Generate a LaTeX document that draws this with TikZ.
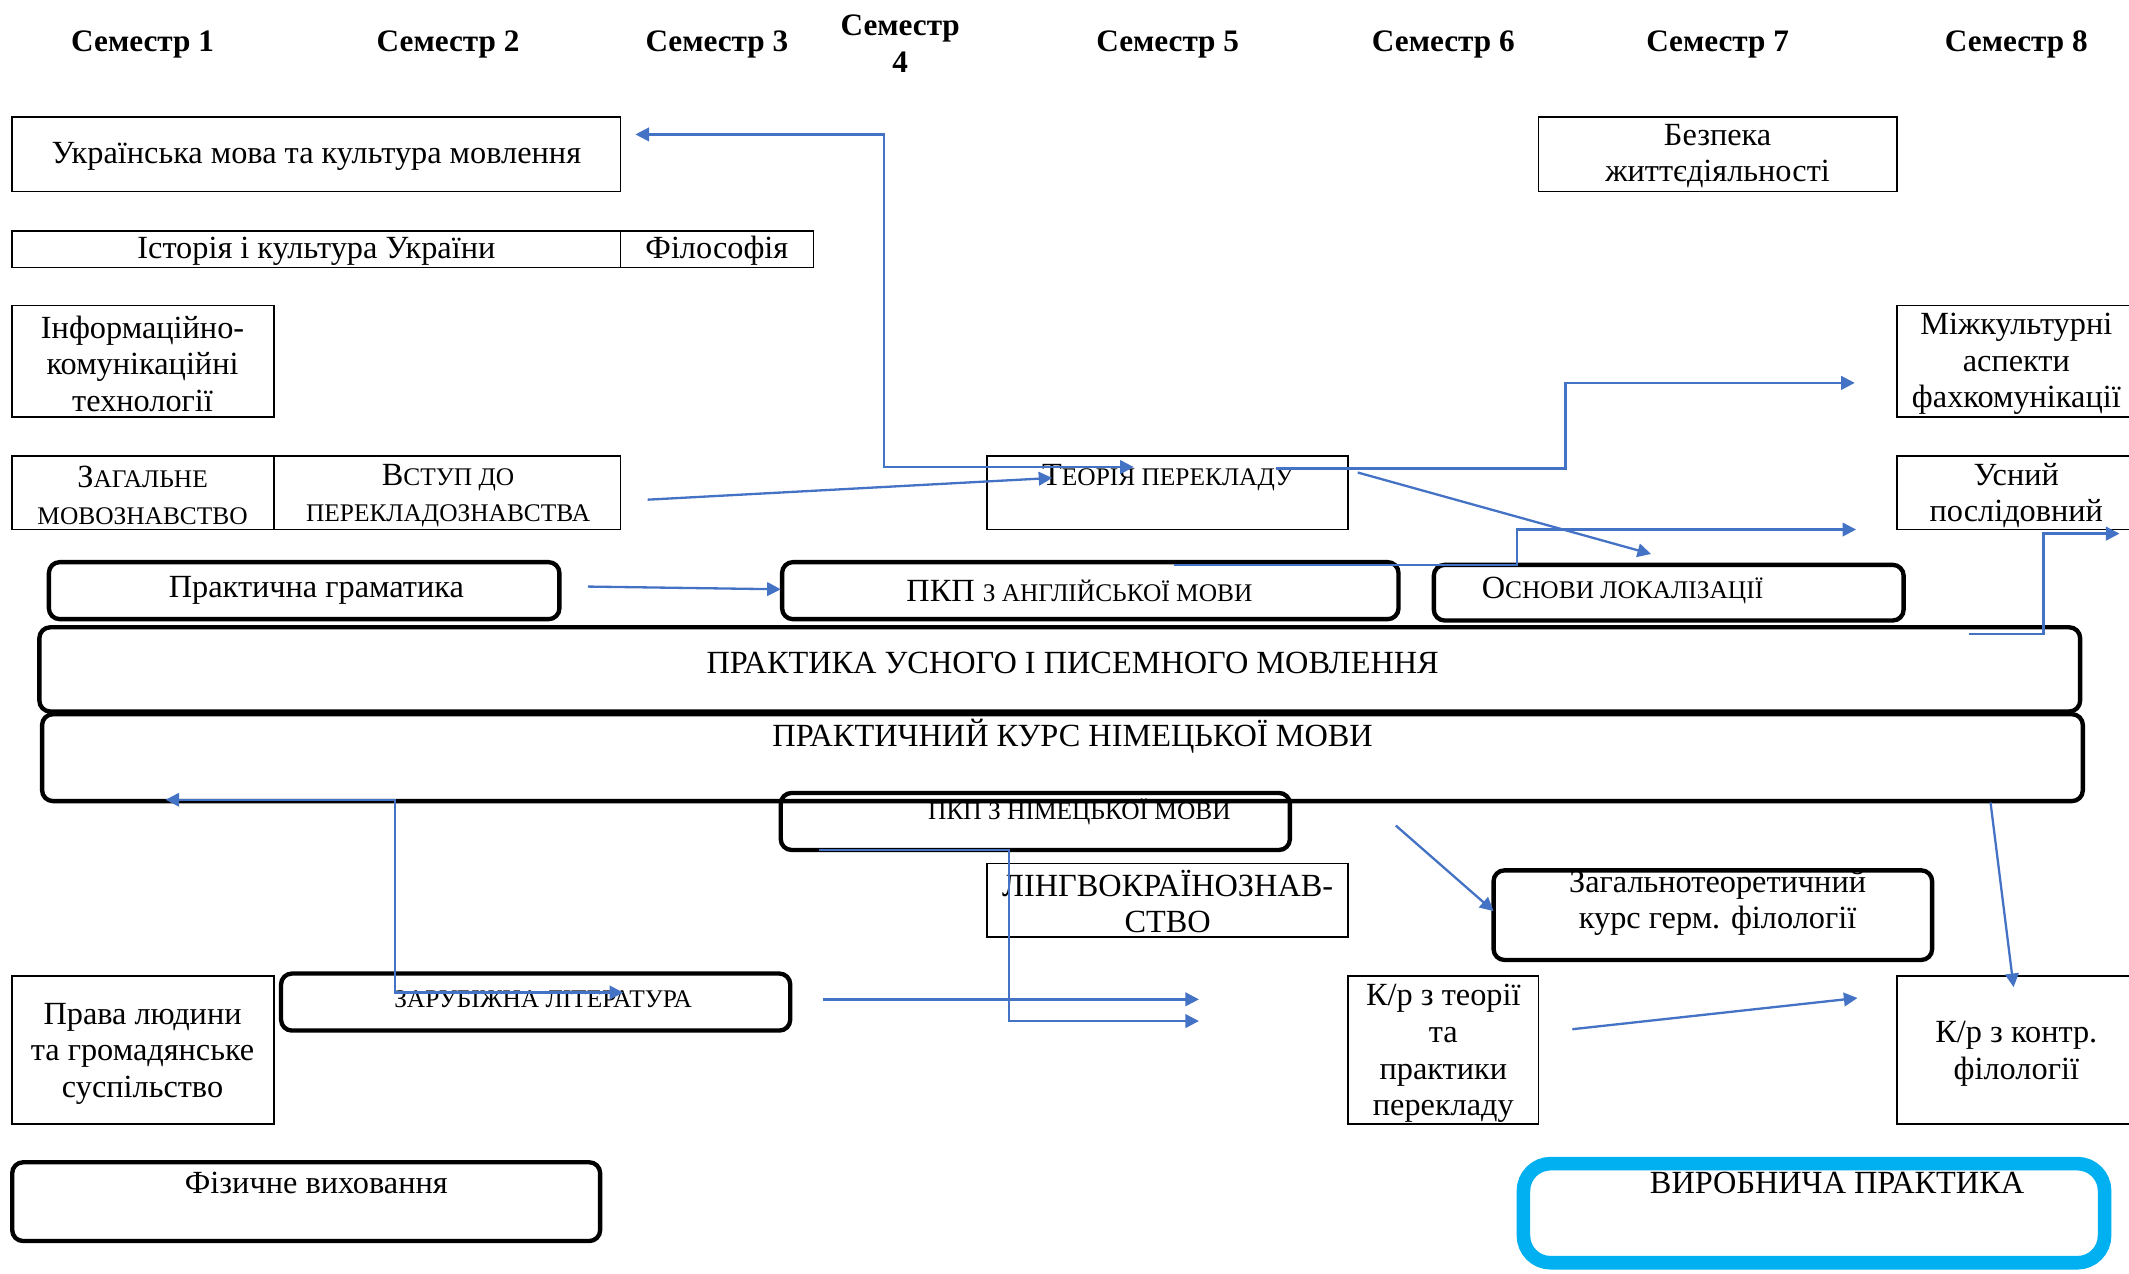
\documentclass[tikz,border=0pt]{standalone}
\usepackage{fontspec}
\setmainfont{Liberation Serif}
\usetikzlibrary{arrows.meta,fit}
\definecolor{connblue}{HTML}{4472C4}
\definecolor{cyanbox}{HTML}{00B0F0}
\newcommand\nsz{\fontsize{23.8}{27}\selectfont}
\newcommand\ssc[1]{{\fontsize{18.7}{27}\selectfont #1}}
\begin{document}
\begin{tikzpicture}[x=1pt,y=-1pt,
  thinbox/.style={draw, line width=1.2pt, inner sep=0pt},
  thickbox/.style={draw, line width=3.2pt, rounded corners=8pt, inner sep=0pt},
  cyanframe/.style={draw=cyanbox, line width=10pt, rounded corners=20pt, inner sep=0pt},
  txt/.style={font=\nsz, align=center, inner sep=0pt},
  hdr/.style={font=\fontsize{23}{27}\selectfont\bfseries, align=center, inner sep=0pt},
  link/.style={draw=connblue, line width=1.7pt, -{Triangle[length=10pt,width=10pt]}},
  duallink/.style={draw=connblue, line width=1.7pt, {Triangle[length=10pt,width=10pt]}-{Triangle[length=10pt,width=10pt]}}
]
\useasboundingbox (0,0) rectangle (1568,938);

% headers
\node[hdr] (h1) at (105,33) {Семестр 1};
\node[hdr] (h2) at (330,33) {Семестр 2};
\node[hdr] (h3) at (528,33) {Семестр 3};
\node[hdr] (h4) at (663,32) {Семестр\\4};
\node[hdr] (h5) at (860,33) {Семестр 5};
\node[hdr] (h6) at (1063,33) {Семестр 6};
\node[hdr] (h7) at (1265,33) {Семестр 7};
\node[hdr] (h8) at (1485,33) {Семестр 8};

% thin boxes
\node[thinbox, fit={(9,86) (457,141)}] (ukr) {};
\node[txt] (ukrT) at (233,115) {Українська мова та культура мовлення};
\node[thinbox, fit={(9,170) (457,197)}] (ist) {};
\node[txt] (istT) at (233,185) {Історія і культура України};
\node[thinbox, fit={(457,170) (599,197)}] (fil) {};
\node[txt] (filT) at (528,185) {Філософія};
\node[thinbox, fit={(9,225) (202,307)}] (ikt) {};
\node[txt] (iktT) at (105,268) {Інформаційно-\\комунікаційні\\технології};
\node[thinbox, fit={(9,336) (202,390)}] (zag) {};
\node[txt] (zagT) at (105,365) {З\ssc{АГАЛЬНЕ}\\\ssc{МОВОЗНАВСТВО}};
\node[thinbox, fit={(202,336) (457,390)}] (vst) {};
\node[txt] (vstT) at (330,365) {В\ssc{СТУП ДО}\\\ssc{ПЕРЕКЛАДОЗНАВСТВА}};
\node[thinbox, fit={(1133,86) (1397,141)}] (bzp) {};
\node[txt] (bzpT) at (1265,115) {Безпека\\життєдіяльності};
\node[thinbox, fit={(1397,225) (1580,307)}] (mkf) {};
\node[txt] (mkfT) at (1485,268) {Міжкультурні\\аспекти\\фахкомунікації};
\node[thinbox, fit={(727,336) (993,390)}] (tp) {};
\node[txt] (tpT) at (860,352) {Т\ssc{ЕОРІЯ ПЕРЕКЛАДУ}};
\node[thinbox, fit={(1397,336) (1580,390)}] (usn) {};
\node[txt] (usnT) at (1485,365) {Усний\\послідовний};
\node[thinbox, fit={(727,636) (993,690)}] (lkz) {};
\node[txt] (lkzT) at (860,664) {ЛІНГВОКРАЇНОЗНАВ-\\СТВО};
\node[thinbox, fit={(9,719) (202,828)}] (prl) {};
\node[txt] (prlT) at (105,776) {Права людини\\та громадянське\\суспільство};
\node[thinbox, fit={(993,719) (1133,828)}] (krt) {};
\node[txt] (krtT) at (1063,776) {К/р з теорії\\та\\практики\\перекладу};
\node[thinbox, fit={(1397,719) (1580,828)}] (krk) {};
\node[txt] (krkT) at (1485,776) {К/р з контр.\\філології};

% thick rounded boxes
\node[thickbox, fit={(36,414) (412,456)}] (pg) {};
\node[txt] (pgT) at (233,435) {Практична граматика};
\node[thickbox, fit={(576,414) (1030,456)}] (pka) {};
\node[txt] (pkaT) at (795,435) {ПКП \ssc{З АНГЛІЙСЬКОЇ МОВИ}};
\node[thickbox, fit={(1056,416) (1402,457)}] (osl) {};
\node[txt] (oslT) at (1195,435) {О\ssc{СНОВИ ЛОКАЛІЗАЦІЇ}};
\node[thickbox, fit={(575,584) (950,626)}] (pkn) {};
\node[txt] (pknT) at (795,598) {\ssc{ПКП З НІМЕЦЬКОЇ МОВИ}};
\node[thickbox, fit={(29,462) (1532,524)}] (pum) {};
\node[txt] (pumT) at (790,488) {ПРАКТИКА УСНОГО І ПИСЕМНОГО МОВЛЕННЯ};
\node[thickbox, fit={(31,526) (1534,590)}] (pkm) {};
\node[txt] (pkmT) at (790,542) {ПРАКТИЧНИЙ КУРС НІМЕЦЬКОЇ МОВИ};
\node[thickbox, fit={(1100,641) (1423,707)}] (ztk) {};
\node[txt] (ztkT) at (1265,665) {Загальнотеоретичний\\курс герм. філології};
\node[thickbox, fit={(207,717) (582,759)}] (zl) {};
\node[txt] (zlT) at (400,736) {\ssc{ЗАРУБІЖНА ЛІТЕРАТУРА}};
\node[thickbox, fit={(9,856) (442,914)}] (fv) {};
\node[txt] (fvT) at (233,871) {Фізичне виховання};
\node[cyanframe, fit={(1122,857) (1550,930)}] (vp) {};
\node[txt] (vpT) at (1353,871) {ВИРОБНИЧА ПРАКТИКА};

% connector end points
\coordinate (a1) at (468,99);
\coordinate (k1) at (651,344);
\coordinate (a2) at (835,344);
\coordinate (v1) at (477,368);
\coordinate (v2) at (775,352);
\coordinate (t1) at (940,345);
\coordinate (k3) at (1153,282);
\coordinate (m1) at (1366,282);
\coordinate (t2) at (1000,348);
\coordinate (o1) at (1216,408);
\coordinate (e1) at (865,416);
\coordinate (k5) at (1117,390);
\coordinate (m2) at (1367,390);
\coordinate (p3) at (1450,467);
\coordinate (k6) at (1505,393);
\coordinate (u1) at (1561,393);
\coordinate (g1) at (433,432);
\coordinate (e0) at (575,434);
\coordinate (n1) at (122,589);
\coordinate (k8) at (291,731);
\coordinate (z1) at (459,731);
\coordinate (d1) at (603,626);
\coordinate (k9) at (743,752);
\coordinate (x1) at (883,752);
\coordinate (z2) at (606,736);
\coordinate (x2) at (883,736);
\coordinate (d2) at (1028,608);
\coordinate (gf) at (1100,671);
\coordinate (pk) at (1466,591);
\coordinate (kc) at (1483,727);
\coordinate (kt) at (1158,758);
\coordinate (kc2) at (1368,735);

% connectors
\draw[duallink] (a1) -| (k1) -- (a2);
\draw[link] (v1) -- (v2);
\draw[link] (t1) -| (k3) -- (m1);
\draw[link] (t2) -- (o1);
\draw[link] (e1) -| (k5) -- (m2);
\draw[link] (p3) -| (k6) -- (u1);
\draw[link] (g1) -- (e0);
\draw[duallink] (n1) -| (k8) -- (z1);
\draw[link] (d1) -| (k9) -- (x1);
\draw[link] (z2) -- (x2);
\draw[link] (d2) -- (gf);
\draw[link] (pk) -- (kc);
\draw[link] (kt) -- (kc2);
\end{tikzpicture}
\end{document}
